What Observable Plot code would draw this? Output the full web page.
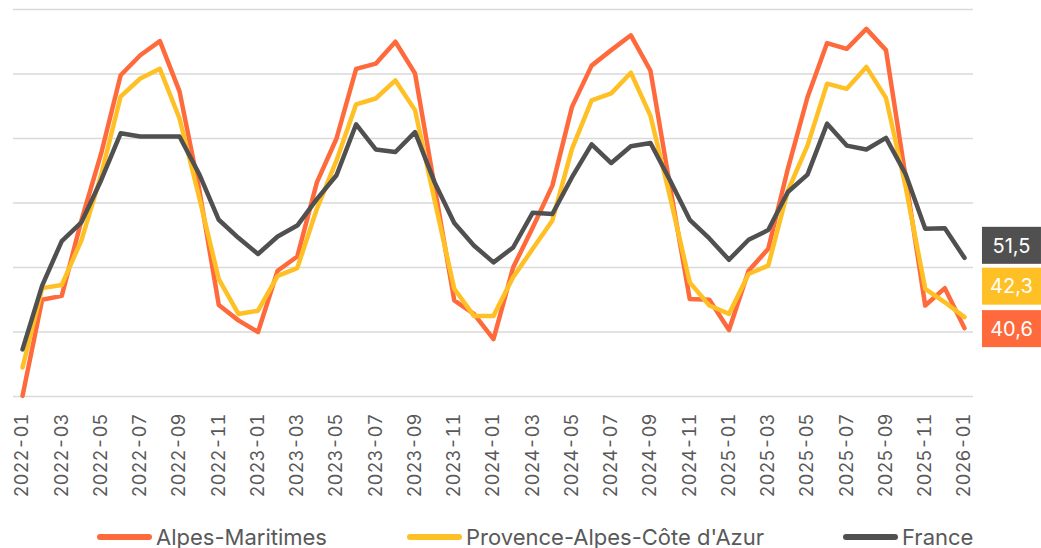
<!DOCTYPE html>
<html>
<head>
<meta charset="utf-8">
<script src="https://cdn.jsdelivr.net/npm/d3@7"></script>
<script src="https://cdn.jsdelivr.net/npm/@observablehq/plot@0.6"></script>
<style>
  html, body { margin: 0; padding: 0; background: #ffffff; }
  #chart { width: 1041px; }
  .legend { height: 22px; margin-top: 16px; font-family: Inter, "Liberation Sans", sans-serif; font-size: 22px; color: #595959; line-height: 22px; position: relative; }
  .legend .item { position: absolute; top: 0; display: flex; align-items: center; }
  .legend .sw { width: 55px; height: 6px; border-radius: 3px; margin-right: 4px; }
</style>
</head>
<body>
<div id="chart"></div>
<script>
// ---- Data ----
const months = [
  "2022-01","2022-02","2022-03","2022-04","2022-05","2022-06","2022-07","2022-08","2022-09","2022-10","2022-11","2022-12",
  "2023-01","2023-02","2023-03","2023-04","2023-05","2023-06","2023-07","2023-08","2023-09","2023-10","2023-11","2023-12",
  "2024-01","2024-02","2024-03","2024-04","2024-05","2024-06","2024-07","2024-08","2024-09","2024-10","2024-11","2024-12",
  "2025-01","2025-02","2025-03","2025-04","2025-05","2025-06","2025-07","2025-08","2025-09","2025-10","2025-11","2025-12",
  "2026-01"
];
const tickLabels = [
  "2022-01","2022-03","2022-05","2022-07","2022-09","2022-11",
  "2023-01","2023-03","2023-05","2023-07","2023-09","2023-11",
  "2024-01","2024-03","2024-05","2024-07","2024-09","2024-11",
  "2025-01","2025-03","2025-05","2025-07","2025-09","2025-11",
  "2026-01"
];
const seriesNames = ["Alpes-Maritimes", "Provence-Alpes-Côte d'Azur", "France"];
const alpesMaritimes = [
  30.1, 45.0, 45.6, 57.3, 67.6, 79.8, 82.9, 85.1, 77.3, 62.2, 44.2, 41.8,
  40.0, 49.5, 51.7, 63.2, 70.0, 80.8, 81.6, 85.0, 80.1, 62.5, 44.9, 42.8,
  38.9, 50.0, 56.2, 62.7, 74.9, 81.3, 83.7, 86.0, 80.5, 62.5, 45.1, 45.0,
  40.3, 49.5, 52.9, 65.3, 76.4, 84.8, 83.9, 87.0, 83.7, 64.0, 44.1, 46.8,
  40.6
];
const paca = [
  34.5, 46.8, 47.3, 54.2, 64.3, 76.5, 79.3, 80.8, 73.1, 60.9, 48.2, 42.8,
  43.3, 48.7, 49.9, 59.1, 66.6, 75.3, 76.2, 79.0, 74.4, 60.4, 46.7, 42.5,
  42.5, 48.5, 52.9, 57.3, 68.4, 75.9, 77.0, 80.2, 73.5, 60.9, 47.7, 44.1,
  42.8, 49.0, 50.3, 61.9, 68.9, 78.5, 77.7, 81.1, 76.3, 62.5, 46.7, 44.6,
  42.3
];
const france = [
  37.3, 47.2, 54.1, 57.0, 63.5, 70.8, 70.3, 70.3, 70.3, 64.5, 57.4, 54.6,
  52.1, 54.8, 56.5, 60.6, 64.3, 72.2, 68.3, 67.9, 71.0, 63.2, 56.9, 53.4,
  50.8, 53.1, 58.5, 58.3, 64.0, 69.1, 66.2, 68.8, 69.3, 63.5, 57.4, 54.5,
  51.2, 54.3, 55.8, 61.7, 64.4, 72.3, 68.9, 68.3, 70.1, 64.5, 56.0, 56.1,
  51.5
];
const yTicks = [30, 40, 50, 60, 70, 80, 90];

// ---- Styles ----
const colors = ["#FF6A3D", "#FFC025", "#505050"];
const labelNudge = [1, -30.5, -12]; // px offsets to avoid overlapping end labels
const catPad = 0.46; // outer padding of the category axis, in category steps

// ---- Build table ----
const seriesValues = [alpesMaritimes, paca, france];
const rows = [];
seriesNames.forEach((s, k) => months.forEach((m, i) => rows.push({series: s, idx: i, month: m, value: seriesValues[k][i]})));
const lastIdx = months.length - 1;
const tickIdx = tickLabels.map(t => months.indexOf(t));
const fmt = v => v.toFixed(1).replace(".", ",");

function endLabels(index, scales) {
  const g = d3.create("svg:g");
  seriesNames.forEach((s, k) => {
    const v = seriesValues[k][seriesValues[k].length - 1];
    const cx = scales.x(lastIdx) + 47.5;
    const cy = scales.y(v) + labelNudge[k];
    g.append("rect")
      .attr("x", cx - 29.5).attr("y", cy - 18.5)
      .attr("width", 59).attr("height", 37)
      .attr("fill", colors[k]);
    g.append("text")
      .attr("x", cx).attr("y", cy).attr("dy", "0.36em")
      .attr("text-anchor", "middle")
      .attr("fill", "#ffffff")
      .attr("font-size", 20)
      .attr("font-family", "Inter, 'Liberation Sans', sans-serif")
      .text(fmt(v));
  });
  return g.node();
}

const plot = Plot.plot({
  width: 1041,
  height: 510,
  marginTop: 9,
  marginBottom: 114,
  marginLeft: 13,
  marginRight: 68,
  style: {fontFamily: "Inter, 'Liberation Sans', sans-serif", color: "#595959", background: "#ffffff"},
  x: {domain: [-catPad, lastIdx + catPad]},
  y: {domain: [30, 90], axis: null},
  color: {domain: seriesNames, range: colors},
  marks: [
    Plot.ruleY(yTicks, {stroke: "#d9d9d9", strokeWidth: 1.6}),
    Plot.line(rows, {x: "idx", y: "value", z: "series", stroke: "series", strokeWidth: 4.5, strokeLinejoin: "round", strokeLinecap: "round"}),
    Plot.axisX(tickIdx, {tickFormat: i => months[i], tickRotate: -90, tickSize: 0, tickPadding: 17, fontSize: 18.5, label: null}),
    endLabels
  ]
});
document.getElementById("chart").appendChild(plot);

// ---- Legend ----
const legend = document.createElement("div");
legend.className = "legend";
const legendLeft = [97, 407, 843];
seriesNames.forEach((s, k) => {
  const item = document.createElement("div");
  item.className = "item";
  item.style.left = legendLeft[k] + "px";
  const sw = document.createElement("span");
  sw.className = "sw";
  sw.style.background = colors[k];
  const tx = document.createElement("span");
  tx.textContent = s;
  item.appendChild(sw);
  item.appendChild(tx);
  legend.appendChild(item);
});
document.getElementById("chart").appendChild(legend);
</script>
</body>
</html>
